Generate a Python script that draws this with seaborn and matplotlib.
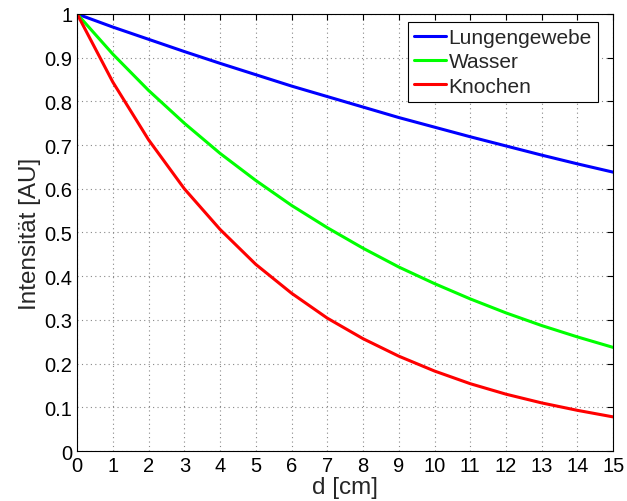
import matplotlib
matplotlib.use("Agg")
import matplotlib.pyplot as plt
import seaborn as sns
import pandas as pd

d_cm = list(range(16))
lungengewebe = [1.0, 0.970, 0.942, 0.914, 0.887, 0.861, 0.835, 0.811, 0.787, 0.763, 0.741, 0.719, 0.698, 0.677, 0.657, 0.638]
wasser = [1.0, 0.908, 0.825, 0.750, 0.681, 0.619, 0.562, 0.511, 0.464, 0.421, 0.383, 0.348, 0.316, 0.287, 0.261, 0.237]
knochen = [1.0, 0.844, 0.712, 0.600, 0.507, 0.427, 0.361, 0.304, 0.257, 0.217, 0.183, 0.154, 0.130, 0.110, 0.093, 0.078]
series_names = ["Lungengewebe", "Wasser", "Knochen"]
colors = ["#0000ff", "#00ff00", "#ff0000"]

df = pd.DataFrame({"d": d_cm * 3,
                   "I": lungengewebe + wasser + knochen,
                   "Material": [series_names[0]] * 16 + [series_names[1]] * 16 + [series_names[2]] * 16})

sns.set_style("white")
plt.rcParams['font.family'] = ['Liberation Sans', 'DejaVu Sans']

fig = plt.figure(figsize=(6.27, 5.02), dpi=100)
ax = fig.add_axes([0.123, 0.0996, 0.855, 0.8706])
sns.lineplot(data=df, x="d", y="I", hue="Material", palette=colors, linewidth=2.2, ax=ax)

ax.set_xlim(0, 15)
ax.set_ylim(0, 1)
ax.set_xticks(range(16))
ax.set_yticks([i / 10 for i in range(11)])
ax.set_yticklabels(["0"] + [f"0.{i}" for i in range(1, 10)] + ["1"])
ax.grid(True, linestyle=(0, (1, 3)), color="#888888", linewidth=0.8)
ax.tick_params(direction="in", top=True, right=True, labelsize=14.5, length=4, width=0.8,
               colors="black", pad=3.5)
for s in ax.spines.values():
    s.set_color("black")
    s.set_linewidth(0.8)
ax.set_xlabel("d [cm]", fontsize=17.5, labelpad=0.5)
ax.set_ylabel("Intensität [AU]", fontsize=17.5, labelpad=2)
leg = ax.legend(loc="upper right", bbox_to_anchor=(0.972, 0.9817), borderaxespad=0,
                fontsize=15, frameon=True, fancybox=False,
                edgecolor="black", framealpha=1, handlelength=1.5, handletextpad=0.15,
                labelspacing=0.25, borderpad=0.3)
leg.get_frame().set_linewidth(0.8)
fig.savefig("out.png", dpi=100)
